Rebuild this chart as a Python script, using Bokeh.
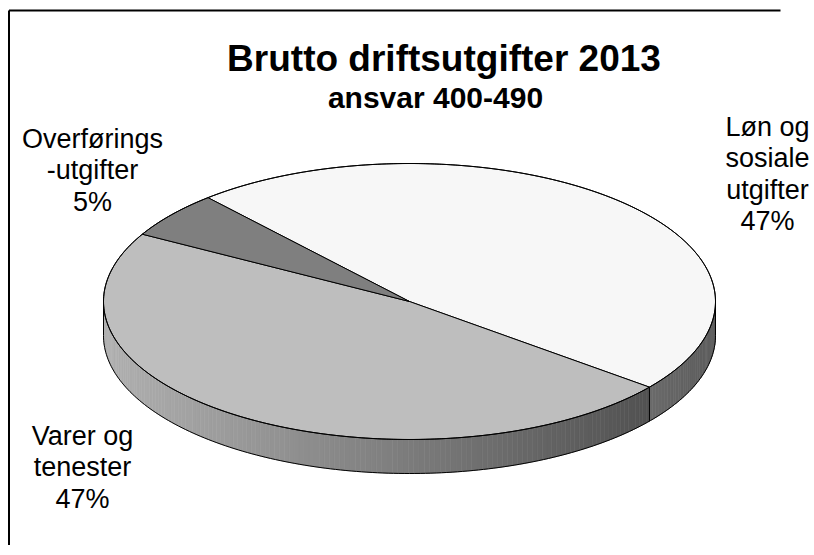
import numpy as np
from bokeh.plotting import figure
from bokeh.models import Range1d
from bokeh.embed import file_html
from bokeh.resources import INLINE
from bokeh.core.properties import value

# ---- data ----
categories = ["Løn og sosiale utgifter", "Varer og tenester", "Overføringsutgifter"]
label_lines = [["Løn og", "sosiale", "utgifter"], ["Varer og", "tenester"], ["Overførings", "-utgifter"]]
shares = [47.1, 47.45, 5.45]
top_colors = ["#f7f7f7", "#bebebe", "#7f7f7f"]
side_base = [247, 190, 127]
title_text = "Brutto driftsutgifter 2013"
subtitle_text = "ansvar 400-490"

# ---- layout ----
W, H = 810, 545
CX, CY, RX, RY, DEPTH = 409.0, 301.0, 306.0, 138.0, 34.0
START = 131.2
FONT = "Liberation Sans"
label_x = [767, 82, 92]
label_y0 = [126, 435, 138]
PITCH = 31.5

p = figure(width=W, height=H, output_backend="svg", toolbar_location=None,
           x_range=Range1d(0, W), y_range=Range1d(H, 0),
           x_axis_location=None, y_axis_location=None, min_border=0)
p.grid.visible = False
p.outline_line_color = None
p.background_fill_color = "white"
p.border_fill_color = "white"


def ex(t):
    return CX + RX * np.cos(np.radians(t))


def ey(t):
    return CY - RY * np.sin(np.radians(t))


total = float(sum(shares))
cum = np.concatenate([[0.0], np.cumsum(shares)]) / total * 360.0
bounds = [(START - cum[i + 1], START - cum[i]) for i in range(len(shares))]

# ---- sides (front half) ----
sx, sy, sc = [], [], []
for i, (lo0, hi0) in enumerate(bounds):
    for k in (-1, 0, 1):
        lo = max(lo0 + 360 * k, -180.0)
        hi = min(hi0 + 360 * k, 0.0)
        if hi <= lo:
            continue
        m = int((hi - lo) / 1.0) + 1
        ts = np.linspace(lo, hi, m + 1)
        for j in range(m):
            t0, t1 = ts[j], ts[j + 1]
            xm = ex((t0 + t1) / 2)
            u = (xm - (CX - RX)) / (2 * RX)
            shade = min(max(0.93 - 0.56 * u, 0.38), 1.0)
            g = int(round(side_base[i] * shade))
            sx.append([ex(t0), ex(t1), ex(t1), ex(t0)])
            sy.append([ey(t0), ey(t1), ey(t1) + DEPTH, ey(t0) + DEPTH])
            sc.append("#%02x%02x%02x" % (g, g, g))
p.patches(sx, sy, fill_color=sc, line_color=sc, line_width=0.6)

# ---- top faces ----
tx, ty = [], []
for lo, hi in bounds:
    ts = np.linspace(lo, hi, int(hi - lo) + 2)
    tx.append([CX] + list(ex(ts)))
    ty.append([CY] + list(ey(ts)))
p.patches(tx, ty, fill_color=top_colors, line_color="black", line_width=1)

# ---- outlines ----
full = np.linspace(0, 360, 361)
p.line(ex(full), ey(full), line_color="black", line_width=1)
front = np.linspace(-180, 0, 181)
p.line(ex(front), ey(front) + DEPTH, line_color="black", line_width=1)
vx0, vy0, vy1 = [], [], []
for t in [-180.0, 0.0] + [b[0] for b in bounds]:
    tt = ((t + 180) % 360) - 180
    if -180 <= tt <= 0:
        vx0.append(ex(tt))
        vy0.append(ey(tt))
        vy1.append(ey(tt) + DEPTH)
p.segment(vx0, vy0, vx0, vy1, line_color="black", line_width=1)

# ---- frame (left and top edges only) ----
p.segment([8.5, 8.5], [H + 5, 10], [8.5, W - 30], [10, 10], line_color="black", line_width=2)

# ---- texts ----
p.text([443.5], [58], text=[title_text], text_font=value(FONT), text_font_style="bold",
       text_font_size="37px", text_align="center", text_baseline="alphabetic", text_color="black")
p.text([435], [97], text=[subtitle_text], text_font=value(FONT), text_font_style="bold",
       text_font_size="30px", text_align="center", text_baseline="alphabetic", text_color="black")

lx, ly, lt = [], [], []
for i, lines in enumerate(label_lines):
    pct = "%d%%" % round(shares[i] / total * 100)
    for j, s in enumerate(lines + [pct]):
        lx.append(label_x[i])
        ly.append(label_y0[i] + j * PITCH)
        lt.append(s)
p.text(lx, ly, text=lt, text_font=value(FONT), text_font_size="27px", text_align="center",
       text_baseline="alphabetic", text_color="black")

open("out.html", "w").write(file_html(p, INLINE))
